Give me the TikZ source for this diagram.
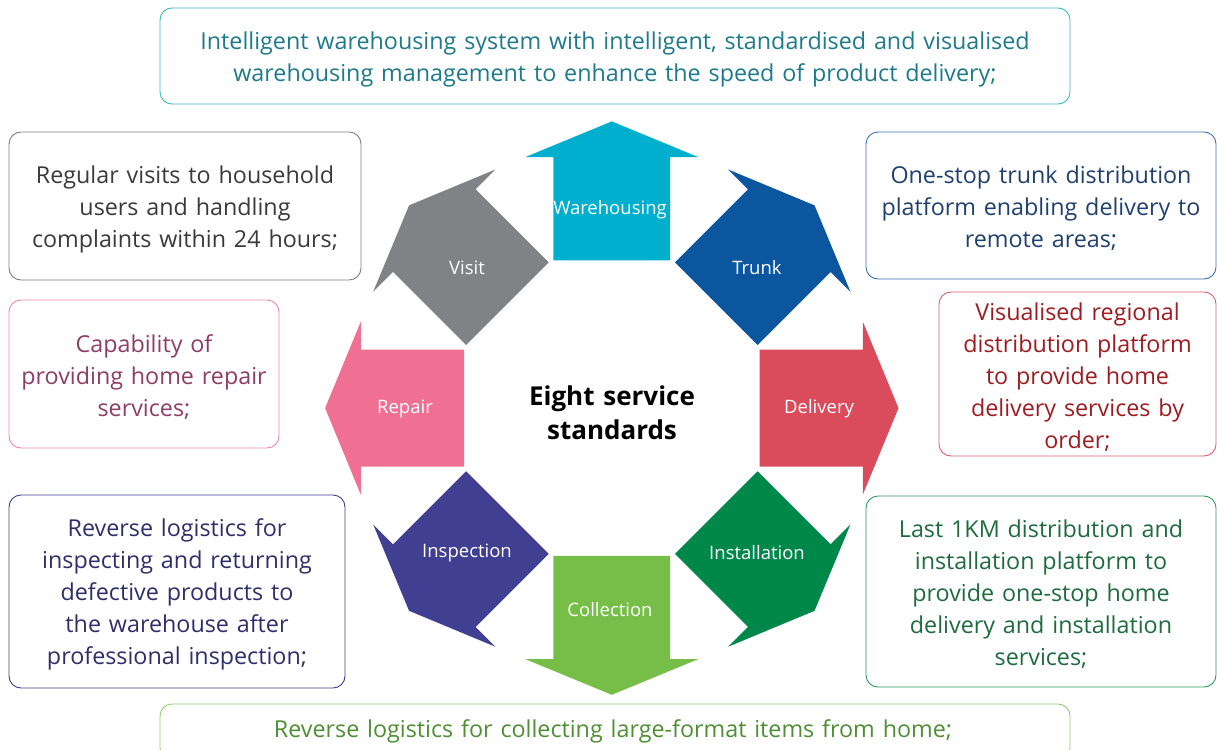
\documentclass[tikz,border=0pt]{standalone}
\usepackage{fontspec}
\setmainfont{Open Sans}[WordSpace=1.3]
\definecolor{cWare}{HTML}{00AECE}
\definecolor{cTrunk}{HTML}{0C56A0}
\definecolor{cDeliv}{HTML}{DA4B5C}
\definecolor{cInst}{HTML}{00874A}
\definecolor{cColl}{HTML}{76BE47}
\definecolor{cInsp}{HTML}{413F92}
\definecolor{cRep}{HTML}{EF7093}
\definecolor{cVisit}{HTML}{818285}
\definecolor{bTop}{HTML}{3FB6C6}\definecolor{tTop}{HTML}{1D7A8A}
\definecolor{bVisit}{HTML}{7F7F7F}\definecolor{tVisit}{HTML}{3A3A3A}
\definecolor{bTrunk}{HTML}{3A73B5}\definecolor{tTrunk}{HTML}{1F3F6E}
\definecolor{bRep}{HTML}{EE88A5}\definecolor{tRep}{HTML}{8E3D66}
\definecolor{bDeliv}{HTML}{DD5E6E}\definecolor{tDeliv}{HTML}{9E1B20}
\definecolor{bInsp}{HTML}{3E3D8C}\definecolor{tInsp}{HTML}{2F2E6A}
\definecolor{bInst}{HTML}{2E9960}\definecolor{tInst}{HTML}{1D6B3F}
\definecolor{bColl}{HTML}{8FCF6E}\definecolor{tColl}{HTML}{4E8F34}
\newcommand\svcarrow[2]{%
  \fill[#2, shift={(611.8,408.1)}, rotate=#1]
    (147.7,-58.4) -- (251,-58.4) -- (251,-86.5) -- (286.7,0) -- (251,86.5) -- (251,58.4) -- (147.7,58.4) -- cycle;}
\begin{document}
\begin{tikzpicture}[x=1pt,y=-1pt,
  box/.style={draw, rounded corners=12pt, line width=0.9pt, inner sep=0pt},
  btext/.style={align=center, inner sep=0pt, font=\fontsize{23.3}{32}\selectfont},
  lbl/.style={text=white, inner sep=0pt, font=\fontsize{18.5}{20}\selectfont}]
\useasboundingbox (0,0) rectangle (1217,749);
% arrows
\svcarrow{90}{cWare}
\svcarrow{45}{cTrunk}
\svcarrow{0}{cDeliv}
\svcarrow{315}{cInst}
\svcarrow{270}{cColl}
\svcarrow{225}{cInsp}
\svcarrow{180}{cRep}
\svcarrow{135}{cVisit}
% arrow labels
\node[lbl] (lware) at (610,210) {Warehousing};
\node[lbl] (ltrunk) at (757,268) {Trunk};
\node[lbl] (ldeliv) at (819,409) {Delivery};
\node[lbl] (linst) at (757,553) {Installation};
\node[lbl] (lcoll) at (610,610) {Collection};
\node[lbl] (linsp) at (467,553) {Inspection};
\node[lbl] (lrep) at (405,409) {Repair};
\node[lbl] (lvisit) at (467,268) {Visit};
% centre
\node[align=center, inner sep=0pt, font=\fontsize{26}{34}\bfseries\selectfont] (centre) at (612,413) {Eight service\\standards};
% boxes
\node[box, draw=bTop, minimum width=910pt, minimum height=96pt] (top) at (615,56) {};
\node[btext, text=tTop] (toptext) at ([yshift=-3pt]top.center)
  {Intelligent warehousing system with intelligent, standardised and visualised\\warehousing management to enhance the speed of product delivery;};
\node[box, draw=bVisit, minimum width=352pt, minimum height=148pt] (visit) at (185,206) {};
\node[btext, text=tVisit] (visittext) at ([yshift=-3pt]visit.center)
  {Regular visits to household\\users and handling\\complaints within 24 hours;};
\node[box, draw=bRep, minimum width=270pt, minimum height=148pt] (repair) at (144,374) {};
\node[btext, text=tRep] (repairtext) at ([yshift=-3pt]repair.center)
  {Capability of\\providing home repair\\services;};
\node[box, draw=bInsp, minimum width=336pt, minimum height=193pt] (insp) at (177,591.5) {};
\node[btext, text=tInsp] (insptext) at ([yshift=-3pt]insp.center)
  {Reverse logistics for\\inspecting and returning\\defective products to\\the warehouse after\\professional inspection;};
\node[box, draw=bTrunk, minimum width=350pt, minimum height=147pt] (trunk) at (1041,205.5) {};
\node[btext, text=tTrunk] (trunktext) at ([yshift=-3pt]trunk.center)
  {One-stop trunk distribution\\platform enabling delivery to\\remote areas;};
\node[box, draw=bDeliv, minimum width=277pt, minimum height=164pt] (deliv) at (1077.5,374) {};
\node[btext, text=tDeliv] (delivtext) at ([yshift=-3pt]deliv.center)
  {Visualised regional\\distribution platform\\to provide home\\delivery services by\\order;};
\node[box, draw=bInst, minimum width=350pt, minimum height=191pt] (inst) at (1041,591.5) {};
\node[btext, text=tInst] (insttext) at ([yshift=-3pt]inst.center)
  {Last 1KM distribution and\\installation platform to\\provide one-stop home\\delivery and installation\\services;};
\node[box, draw=bColl, minimum width=910pt, minimum height=56pt] (coll) at (615,732) {};
\node[btext, text=tColl] (colltext) at (613,731)
  {Reverse logistics for collecting large-format items from home;};
\end{tikzpicture}
\end{document}
